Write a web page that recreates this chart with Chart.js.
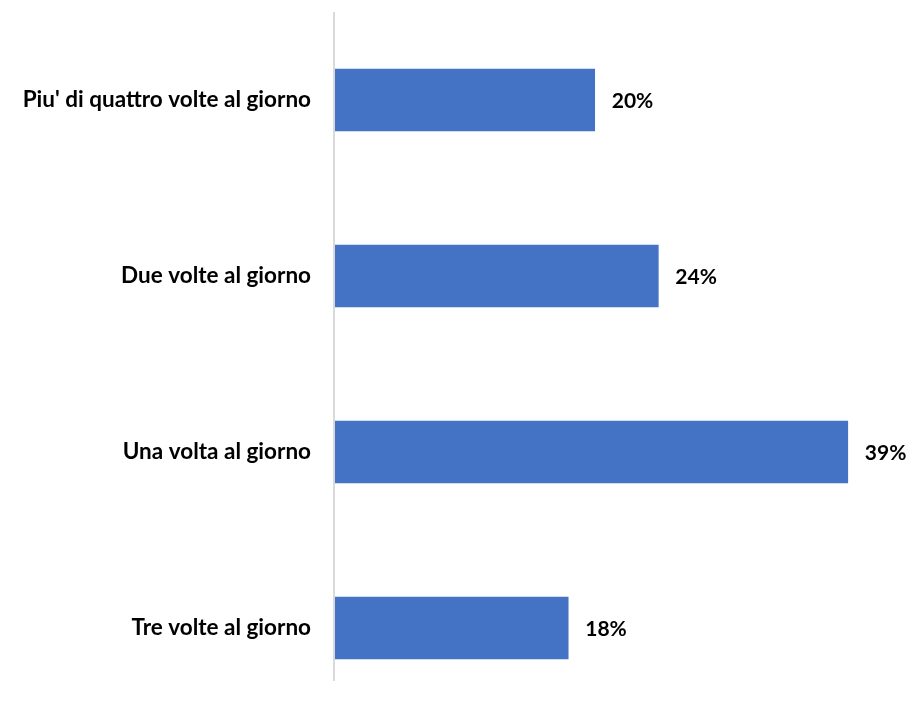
<!DOCTYPE html>
<html>
<head>
<meta charset="utf-8">
<script src="https://cdn.jsdelivr.net/npm/chart.js@4.4.1/dist/chart.umd.min.js"></script>
<style>
  html, body { margin: 0; padding: 0; background: #fff; overflow: hidden; }
  canvas { display: block; }
</style>
</head>
<body>
<canvas id="chart" width="908" height="716"></canvas>
<script>
const categories = [
  "Piu' di quattro volte al giorno",
  'Due volte al giorno',
  'Una volta al giorno',
  'Tre volte al giorno',
];
const shares = [19.6, 24.4, 38.7, 17.6];
const xMax = 40;

const barColor = '#4472c4';
const axisColor = '#d9d9d9';
const labelFont = { family: 'Lato, sans-serif', size: 22.5, weight: 'bold' };
const valueFontSize = 21;

// value labels just past the bar end
const valueLabels = {
  id: 'valueLabels',
  afterDatasetsDraw(chart) {
    const { ctx } = chart;
    const meta = chart.getDatasetMeta(0);
    ctx.save();
    ctx.font = `bold ${valueFontSize}px ${labelFont.family}`;
    ctx.fillStyle = '#000';
    ctx.textAlign = 'left';
    ctx.textBaseline = 'middle';
    meta.data.forEach((bar, i) => {
      ctx.fillText(Math.round(shares[i]) + '%', bar.x + 17, bar.y + 1);
    });
    ctx.restore();
  },
};

// axis line stops short of the plot bottom, like the original
const axisLine = {
  id: 'axisLine',
  beforeDatasetsDraw(chart) {
    const { ctx, chartArea } = chart;
    ctx.save();
    ctx.strokeStyle = axisColor;
    ctx.lineWidth = 2;
    ctx.beginPath();
    ctx.moveTo(chartArea.left - 1, chartArea.top);
    ctx.lineTo(chartArea.left - 1, chartArea.bottom - 35);
    ctx.stroke();
    ctx.restore();
  },
};

new Chart(document.getElementById('chart'), {
  type: 'bar',
  data: {
    labels: categories,
    datasets: [
      {
        data: shares,
        backgroundColor: barColor,
        borderWidth: 0,
        barThickness: 62,
      },
    ],
  },
  options: {
    indexAxis: 'y',
    responsive: false,
    animation: false,
    layout: { padding: { top: 12, right: 43, bottom: 0, left: 0 } },
    plugins: { legend: { display: false }, tooltip: { enabled: false } },
    scales: {
      x: {
        display: false,
        min: 0,
        max: xMax,
      },
      y: {
        grid: { display: false },
        border: { display: false },
        ticks: { color: '#000', font: labelFont, padding: 16 },
        afterFit(scale) {
          scale.width = 335;
          scale.paddingTop = 0;
          scale.paddingBottom = 0;
        },
      },
    },
  },
  plugins: [axisLine, valueLabels],
});
</script>
</body>
</html>
